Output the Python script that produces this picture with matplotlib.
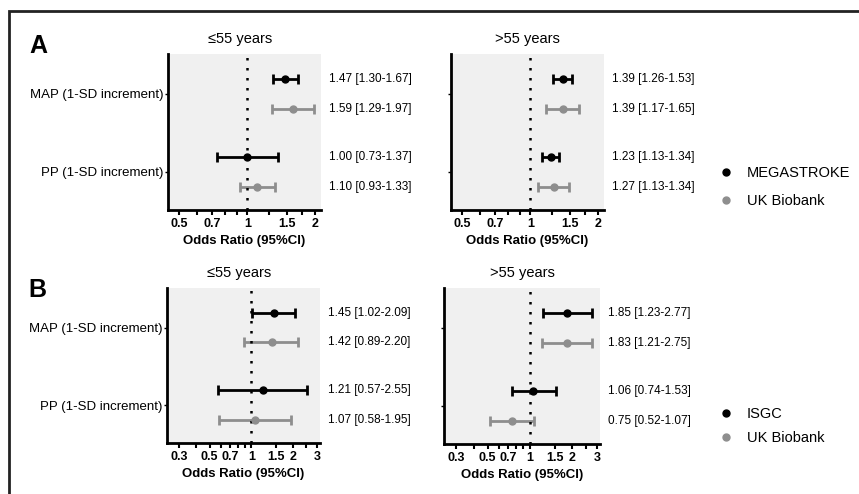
import matplotlib.pyplot as plt
from matplotlib.lines import Line2D
from matplotlib.patches import Rectangle
import matplotlib.transforms as mtransforms

plt.rcParams['font.family'] = ['Liberation Sans', 'DejaVu Sans']

# -------------------------------------------
# data (order: cohort1 MAP, UKB MAP, cohort1 PP, UKB PP)
categories = ['MAP (1-SD increment)', 'PP (1-SD increment)']
titles = ['\u226455 years', '>55 years']

# panel A: MEGASTROKE vs UK Biobank
a_young_or = [1.47, 1.59, 1.00, 1.10]
a_young_lo = [1.30, 1.29, 0.73, 0.93]
a_young_hi = [1.67, 1.97, 1.37, 1.33]
a_young_txt = ['1.47 [1.30-1.67]', '1.59 [1.29-1.97]', '1.00 [0.73-1.37]', '1.10 [0.93-1.33]']

a_old_or = [1.39, 1.39, 1.23, 1.27]
a_old_lo = [1.26, 1.17, 1.13, 1.08]
a_old_hi = [1.53, 1.65, 1.34, 1.48]
a_old_txt = ['1.39 [1.26-1.53]', '1.39 [1.17-1.65]', '1.23 [1.13-1.34]', '1.27 [1.13-1.34]']

# panel B: ISGC vs UK Biobank
b_young_or = [1.45, 1.42, 1.21, 1.07]
b_young_lo = [1.02, 0.89, 0.57, 0.58]
b_young_hi = [2.09, 2.20, 2.55, 1.95]
b_young_txt = ['1.45 [1.02-2.09]', '1.42 [0.89-2.20]', '1.21 [0.57-2.55]', '1.07 [0.58-1.95]']

b_old_or = [1.85, 1.83, 1.06, 0.75]
b_old_lo = [1.23, 1.21, 0.74, 0.52]
b_old_hi = [2.77, 2.75, 1.53, 1.07]
b_old_txt = ['1.85 [1.23-2.77]', '1.83 [1.21-2.75]', '1.06 [0.74-1.53]', '0.75 [0.52-1.07]']

a_ticks = [0.5, 0.7, 1, 1.5, 2]
a_minor = [0.6, 0.8, 0.9, 1.25, 1.75]
b_ticks = [0.3, 0.5, 0.7, 1, 1.5, 2, 3]
b_minor = [0.4, 0.6, 0.8, 0.9, 2.5]

# -------------------------------------------
BLACK = '#000000'
GREY = '#8e8e8e'
row_y = [-0.19, 0.19, 0.81, 1.19]
row_col = [BLACK, GREY, BLACK, GREY]

fig = plt.figure(figsize=(8.59, 4.94), dpi=100)

# outer frame (cut off on right and bottom like the reference)
fig.patches.append(Rectangle((9 / 859, -0.05), 1.2, 1 - 11 / 494 + 0.05,
                             transform=fig.transFigure, fill=False,
                             edgecolor='#222222', linewidth=2))


def forest(rect, orv, lo, hi, txt, title, ticks, minor, xlim, ylabels, title_x):
    ax = fig.add_axes(rect)
    ax.set_facecolor('#f0f0f0')
    ax.set_xscale('log')
    for i in range(4):
        ax.errorbar(orv[i], row_y[i], xerr=[[orv[i] - lo[i]], [hi[i] - orv[i]]],
                    fmt='o', color=row_col[i], ecolor=row_col[i], markersize=5,
                    elinewidth=2, capsize=3.5, capthick=2)
    ax.axvline(1, color='black', linestyle=(0, (1, 3)), linewidth=1.8)
    trans = mtransforms.blended_transform_factory(ax.transAxes, ax.transData)
    for i in range(4):
        ax.text(1.05, row_y[i], txt[i], transform=trans, ha='left', va='center',
                fontsize=8.5, clip_on=False)
    ax.set_xlim(*xlim)
    ax.set_ylim(1.49, -0.51)
    ax.set_xticks(ticks)
    ax.set_xticklabels([str(t) for t in ticks], fontweight='bold', fontsize=9)
    ax.set_xticks(minor, minor=True)
    ax.xaxis.set_minor_formatter(plt.NullFormatter())
    ax.tick_params(axis='x', which='both', length=3.5, width=1.5, direction='out', pad=2)
    ax.set_yticks([0, 1])
    if ylabels:
        ax.set_yticklabels(categories, fontsize=9.5)
    else:
        ax.set_yticklabels(['', ''])
    ax.tick_params(axis='y', length=2, width=1, pad=1)
    for s in ['top', 'right']:
        ax.spines[s].set_visible(False)
    for s in ['left', 'bottom']:
        ax.spines[s].set_linewidth(2)
    ax.set_xlabel('Odds Ratio (95%CI)', fontweight='bold', fontsize=9.5, labelpad=4)
    ax.set_title(title, fontsize=10.5, pad=8, x=title_x)
    return ax


W = 153 / 859
H = 156 / 494
forest([168 / 859, 1 - 210 / 494, W, H], a_young_or, a_young_lo, a_young_hi, a_young_txt,
       titles[0], a_ticks, a_minor, (0.445, 2.12), True, 0.47)
forest([451 / 859, 1 - 210 / 494, W, H], a_old_or, a_old_lo, a_old_hi, a_old_txt,
       titles[1], a_ticks, a_minor, (0.445, 2.12), False, 0.5)
forest([167 / 859, 1 - 443 / 494, W, 155 / 494], b_young_or, b_young_lo, b_young_hi, b_young_txt,
       titles[0], b_ticks, b_minor, (0.245, 3.15), True, 0.47)
forest([444 / 859, 1 - 444 / 494, 156 / 859, 156 / 494], b_old_or, b_old_lo, b_old_hi, b_old_txt,
       titles[1], b_ticks, b_minor, (0.245, 3.15), False, 0.5)

fig.text(29 / 859, 1 - 34 / 494, 'A', fontsize=18, fontweight='bold', va='top', ha='left')
fig.text(28 / 859, 1 - 278 / 494, 'B', fontsize=18, fontweight='bold', va='top', ha='left')

# legends
def legend(names, y, spacing):
    handles = [Line2D([], [], marker='o', linestyle='none', color=BLACK, markersize=5),
               Line2D([], [], marker='o', linestyle='none', color=GREY, markersize=5)]
    fig.legend(handles, names, loc='center left', bbox_to_anchor=(713 / 859, y),
               frameon=False, fontsize=10.5, handlelength=1, handletextpad=0.9,
               labelspacing=spacing, borderaxespad=0)


legend(['MEGASTROKE', 'UK Biobank'], 1 - 187 / 494, 0.92)
legend(['ISGC', 'UK Biobank'], 1 - 426 / 494, 0.64)

fig.savefig('out.png', dpi=100)
